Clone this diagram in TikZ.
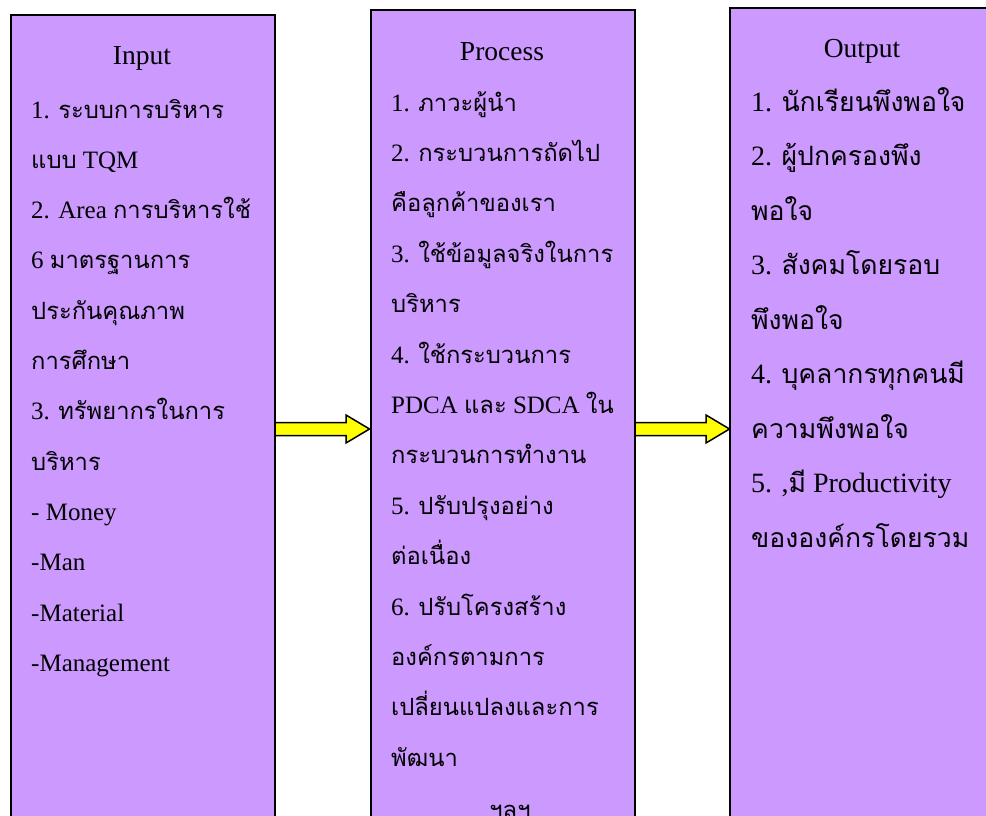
\documentclass[tikz,border=0pt]{standalone}
\usepackage{fontspec}
\setmainfont{Liberation Serif}
\newfontfamily\thaifnt[Script=Thai,Scale=0.95]{Loma}
\newcommand\thx[1]{{\thaifnt #1}}
\usetikzlibrary{calc}
\definecolor{boxpurple}{HTML}{CC99FF}
\definecolor{arrowyellow}{HTML}{FFFF00}
\tikzset{
  colbox/.style={draw=black, line width=2pt, fill=boxpurple, rectangle, inner sep=0pt, anchor=north west},
  colboxopen/.style={draw=none, fill=boxpurple, rectangle, inner sep=0pt, anchor=north west},
  boxedge/.style={draw=black, line width=2pt},
  titletext/.style={anchor=base, inner sep=0pt, font=\fontsize{27.5}{30}\selectfont},
  bodytext/.style={anchor=base west, inner sep=0pt, font=\fontsize{25}{27}\selectfont},
  outtext/.style={anchor=base west, inner sep=0pt, font=\fontsize{28}{30}\selectfont},
  fatarrow/.style={draw=black, line width=1.5pt, fill=arrowyellow, line join=miter}
}
\begin{document}
\begin{tikzpicture}[x=1pt, y=-1pt]
\useasboundingbox (0,0) rectangle (986,816);
\clip (0,0) rectangle (986,816);
% arrows (drawn first)
\coordinate (s1) at (274,429);
\coordinate (t1) at (369.5,429);
\coordinate (s2) at (634,429);
\coordinate (t2) at (729.5,429);
\draw[fatarrow] ($(s1)+(0,-6.5)$) -- ($(t1)+(-23.5,-6.5)$) -- ($(t1)+(-23.5,-14)$) -- (t1) -- ($(t1)+(-23.5,14)$) -- ($(t1)+(-23.5,6.5)$) -- ($(s1)+(0,6.5)$) -- cycle;
\draw[fatarrow] ($(s2)+(0,-6.5)$) -- ($(t2)+(-23.5,-6.5)$) -- ($(t2)+(-23.5,-14)$) -- (t2) -- ($(t2)+(-23.5,14)$) -- ($(t2)+(-23.5,6.5)$) -- ($(s2)+(0,6.5)$) -- cycle;
% boxes
\node[colbox, minimum width=264pt, minimum height=830pt] (inbox) at (10,14) {};
\node[colbox, minimum width=264pt, minimum height=830pt] (procbox) at (370,9) {};
\node[colboxopen, minimum width=320pt, minimum height=830pt] (outbox) at (730,8) {};
\draw[boxedge] (outbox.south west) -- (outbox.north west) -- (outbox.north east);
% Input
\node[titletext] (intitle) at (142,65) {Input};
\node[bodytext] (in1) at (31,118) {1. \thx{ระบบการบริหาร}};
\node[bodytext] (in2) at (31,168.3) {\thx{แบบ} TQM};
\node[bodytext] (in3) at (31,218.6) {2. Area \thx{การบริหารใช้}};
\node[bodytext] (in4) at (31,268.9) {6 \thx{มาตรฐานการ}};
\node[bodytext] (in5) at (31,319.2) {\thx{ประกันคุณภาพ}};
\node[bodytext] (in6) at (31,369.5) {\thx{การศึกษา}};
\node[bodytext] (in7) at (31,419.8) {3. \thx{ทรัพยากรในการ}};
\node[bodytext] (in8) at (31,470.1) {\thx{บริหาร}};
\node[bodytext] (in9) at (31,520.4) {- Money};
\node[bodytext] (in10) at (31,570.7) {-Man};
\node[bodytext] (in11) at (31,621) {-Material};
\node[bodytext] (in12) at (31,671.3) {-Management};
% Process
\node[titletext] (proctitle) at (502,61) {Process};
\node[bodytext] (pr1) at (391,111) {1. \thx{ภาวะผู้นำ}};
\node[bodytext] (pr2) at (391,161.4) {2. \thx{กระบวนการถัดไป}};
\node[bodytext] (pr3) at (391,211.8) {\thx{คือลูกค้าของเรา}};
\node[bodytext] (pr4) at (391,262.2) {3. \thx{ใช้ข้อมูลจริงในการ}};
\node[bodytext] (pr5) at (391,312.6) {\thx{บริหาร}};
\node[bodytext] (pr6) at (391,363) {4. \thx{ใช้กระบวนการ}};
\node[bodytext] (pr7) at (391,413.4) {PDCA \thx{และ} SDCA \thx{ใน}};
\node[bodytext] (pr8) at (391,463.8) {\thx{กระบวนการทำงาน}};
\node[bodytext] (pr9) at (391,514.2) {5. \thx{ปรับปรุงอย่าง}};
\node[bodytext] (pr10) at (391,564.6) {\thx{ต่อเนื่อง}};
\node[bodytext] (pr11) at (391,615) {6. \thx{ปรับโครงสร้าง}};
\node[bodytext] (pr12) at (391,665.4) {\thx{องค์กรตามการ}};
\node[bodytext] (pr13) at (391,715.8) {\thx{เปลี่ยนแปลงและการ}};
\node[bodytext] (pr14) at (391,766.2) {\thx{พัฒนา}};
\node[bodytext, anchor=base] (pr15) at (510,818) {\thx{ฯลฯ}};
% Output
\node[titletext] (outtitle) at (862,58) {Output};
\node[outtext] (ou1) at (751,111) {1. \thx{นักเรียนพึงพอใจ}};
\node[outtext] (ou2) at (751,165.5) {2. \thx{ผู้ปกครองพึง}};
\node[outtext] (ou3) at (751,220) {\thx{พอใจ}};
\node[outtext] (ou4) at (751,274.5) {3. \thx{สังคมโดยรอบ}};
\node[outtext] (ou5) at (751,329) {\thx{พึงพอใจ}};
\node[outtext] (ou6) at (751,383.5) {4. \thx{บุคลากรทุกคนมี}};
\node[outtext] (ou7) at (751,438) {\thx{ความพึงพอใจ}};
\node[outtext] (ou8) at (751,492.5) {5. ,\thx{มี} Productivity};
\node[outtext] (ou9) at (751,547) {\thx{ขององค์กรโดยรวม}};
\end{tikzpicture}
\end{document}
